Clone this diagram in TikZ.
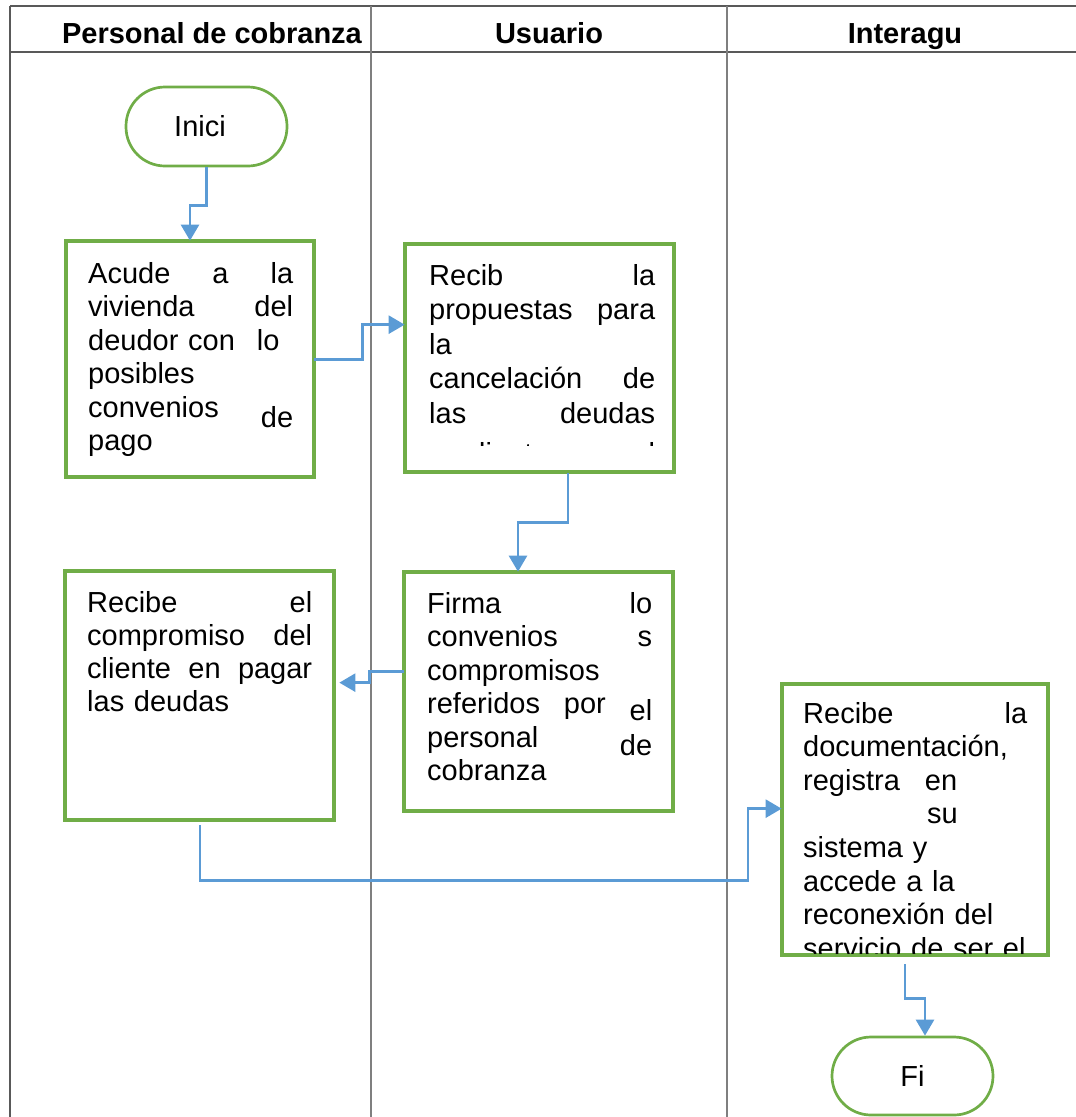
\documentclass[tikz,border=0pt]{standalone}
\usepackage{fontspec}
\setmainfont{Liberation Sans}
\usetikzlibrary{arrows.meta,calc}
\definecolor{boxgreen}{HTML}{70AD47}
\definecolor{flowblue}{HTML}{5B9BD5}
\definecolor{laneline}{HTML}{7F7F7F}
\definecolor{frameline}{HTML}{595959}
% one full-width line of a box text
\newcommand{\jline}[1]{\hbox to\hsize{#1}}
\begin{document}
\begin{tikzpicture}[x=1pt,y=-1pt,
  frame/.style={draw=frameline,line width=1.6pt},
  lane/.style={draw=laneline,line width=1.6pt},
  lanetitle/.style={font=\fontsize{29}{33.5}\selectfont\bfseries,inner sep=0,anchor=base},
  stepbox/.style={draw=boxgreen,line width=2.7pt,inner sep=0},
  terminal/.style={draw=boxgreen,line width=2.7pt,rounded corners=39pt,inner sep=0,
                   font=\fontsize{29}{33.5}\selectfont},
  steptext/.style={inner sep=0,anchor=base west,font=\fontsize{29}{33.5}\selectfont},
  flow/.style={draw=flowblue,line width=2.6pt,-{Triangle[width=18pt,length=16pt]}},
]
\useasboundingbox (0,0) rectangle (1076,1117);

% swimlane frame
\draw[frame] (10,6) -- (1076,6);
\draw[frame] (10,52) -- (1076,52);
\draw[frame] (10,6) -- (10,1117);
\draw[lane] (371,6) -- (371,1117);
\draw[lane] (727,6) -- (727,1117);

\node[lanetitle] (h1) at (212,43) {Personal de cobranza};
\node[lanetitle] (h2) at (549,43) {Usuario};
\node[lanetitle] (h3) at (905,43) {Interagu};

% step boxes (outlines)
\node[stepbox,minimum width=246pt,minimum height=234pt] (b1) at (190,359) {};
\node[stepbox,minimum width=267pt,minimum height=226pt] (b2) at (539.5,358) {};
\node[stepbox,minimum width=267pt,minimum height=237pt] (b3) at (538.5,691.5) {};
\node[stepbox,minimum width=267pt,minimum height=247pt] (b5) at (199.5,695.5) {};
\node[stepbox,minimum width=264pt,minimum height=269pt] (b4) at (915,819.5) {};

% texts of the steps, cut to their boxes
\begin{scope}
  \clip (b1.north west) rectangle (b1.south east);
  \node[steptext,text width=205pt] (t1) at (88,283) {%
    \jline{Acude\hfill a\hfill la}
    \jline{vivienda\hfill del}
    \jline{deudor con\hspace{22pt}lo\hfill}
    \jline{posibles\hfill}
    \jline{convenios\hfill\raisebox{-10pt}{de}}
    \jline{pago\hfill}};
\end{scope}
\begin{scope}
  \clip (b2.north west) rectangle ($(b2.south east)+(0,-27)$);
  \node[steptext,text width=226pt,font=\fontsize{29}{34.5}\selectfont] (t2) at (429,285) {%
    \jline{Recib\hfill la}
    \jline{propuestas\hfill para}
    \jline{la\hfill}
    \jline{cancelación\hfill de}
    \jline{las\hfill deudas}
    \vskip5.5pt
    \jline{mediante\hfill el}};
\end{scope}
\begin{scope}
  \clip (b3.north west) rectangle (b3.south east);
  \node[steptext,text width=225pt] (t3) at (427,613) {%
    \jline{Firma\hfill lo}
    \jline{convenios\hfill s}
    \jline{compromisos\hfill}
    \jline{referidos\hspace{24pt}por\hfill\raisebox{-7pt}{el}}
    \jline{personal\hfill\raisebox{-8pt}{de}}
    \jline{cobranza\hfill}};
\end{scope}
\begin{scope}
  \clip (b5.north west) rectangle (b5.south east);
  \node[steptext,text width=225pt,font=\fontsize{29}{33.3}\selectfont] (t5) at (87,612) {%
    \jline{Recibe\hfill el}
    \jline{compromiso\hfill del}
    \jline{cliente\hfill en\hfill pagar}
    \jline{las deudas\hfill}};
\end{scope}
\begin{scope}
  \clip (b4.north west) rectangle (b4.south east);
  \node[steptext,text width=224pt,font=\fontsize{29}{33.6}\selectfont] (t4) at (803,723) {%
    \jline{Recibe\hfill la}
    \jline{documentación,\hfill}
    \jline{registra\hspace{25pt}en\hfill}
    \jline{\hspace{124pt}su\hfill}
    \jline{sistema y\hfill}
    \jline{accede a la\hfill}
    \jline{reconexión del\hfill}
    \jline{servicio de ser el\hfill}};
\end{scope}

% outlines again on top of the cut text
\foreach \b in {b1,b2,b3,b4,b5}
  \draw[boxgreen,line width=2.7pt] (\b.north west) rectangle (\b.south east);

% start and end
\node[terminal,minimum width=161pt,minimum height=79pt] (ini) at (206.5,126.5) {\hspace*{-13pt}Inici};
\node[terminal,minimum width=161pt,minimum height=78pt] (fin) at (912.5,1076) {Fi};

% flow
\draw[flow] (ini.south) -- ++(0,38) -| (b1.north);
\draw[flow] ($(b1.north east)+(0,119)$) -- ++(48,0) |- ($(b2.north west)+(0,81)$);
\draw[flow] ($(b2.south)+(28.5,1)$) -- ++(0,49) -| ($(b3.north)+(-20.5,0)$);
\draw[flow] ($(b3.north west)+(0,100)$) -- ++(-34,0) |- ($(b5.north east)+(5,112)$);
\draw[flow] ($(b5.south)+(0.5,5)$) -- ++(0,55) -- ++(548,0) |- ($(b4.north west)+(0,125)$);
\draw[flow] ($(b4.south)+(-10,9)$) -- ++(0,34) -| ($(fin.north)+(12.5,0)$);
\end{tikzpicture}
\end{document}
